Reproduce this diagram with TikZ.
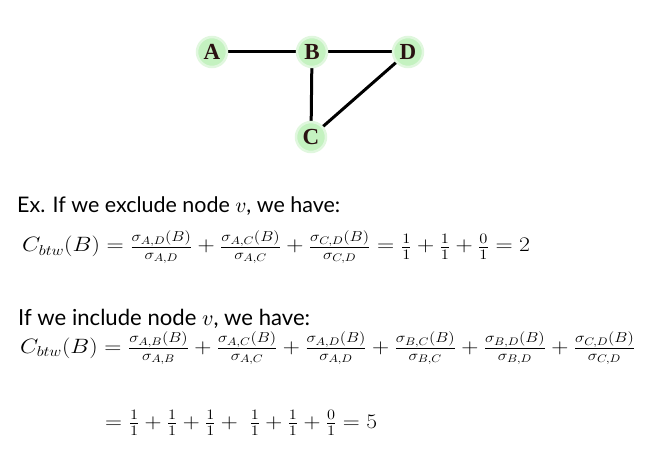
\documentclass[tikz,border=0pt]{standalone}
\usepackage{fontspec}
\setmainfont{Lato}
\newfontfamily\nodefont{Liberation Serif}
\usepackage{graphicx}
\definecolor{nodegreen}{HTML}{C4F2C0}
\definecolor{nodeglow}{HTML}{E0F7DE}
\definecolor{nodetext}{HTML}{2A1212}
\begin{document}
\begin{tikzpicture}[x=1pt,y=-1pt,
  vertex/.style={circle,fill=nodegreen,draw=nodeglow,line width=2.5pt,minimum size=30pt,inner sep=0pt,
    font=\nodefont\bfseries\fontsize{23}{23}\selectfont,text=nodetext},
  edge/.style={line width=3pt,black},
  txt/.style={anchor=base west,inner sep=0pt}]
\useasboundingbox (0,0) rectangle (661,454);
\coordinate (a0) at (212,52);
\coordinate (b0) at (312,52);
\coordinate (d0) at (408,52);
\coordinate (c0) at (311,137);
\draw[edge] (a0) -- (b0);
\draw[edge] (b0) -- (d0);
\draw[edge] (b0) -- (c0);
\draw[edge] (c0) -- (d0);
\node[vertex] (A) at (a0) {A};
\node[vertex] (B) at (b0) {B};
\node[vertex] (D) at (d0) {D};
\node[vertex] (C) at (c0) {C};
\node[txt] (l1) at (17,213) {\resizebox{323pt}{!}{Ex. If we exclude node $v$, we have:}};
\node[txt] (f1) at (22,252) {\fontsize{22}{26}\selectfont\resizebox{508pt}{\height}{$C_{btw}(B)=\frac{\sigma_{A,D}(B)}{\sigma_{A,D}}+\frac{\sigma_{A,C}(B)}{\sigma_{A,C}}+\frac{\sigma_{C,D}(B)}{\sigma_{C,D}}=\frac{1}{1}+\frac{1}{1}+\frac{0}{1}=2$}};
\node[txt] (l2) at (18,325) {\resizebox{292pt}{!}{If we include node $v$, we have:}};
\node[txt] (f2) at (20,353) {\fontsize{22}{26}\selectfont\resizebox{615pt}{\height}{$C_{btw}(B)=\frac{\sigma_{A,B}(B)}{\sigma_{A,B}}+\frac{\sigma_{A,C}(B)}{\sigma_{A,C}}+\frac{\sigma_{A,D}(B)}{\sigma_{A,D}}+\frac{\sigma_{B,C}(B)}{\sigma_{B,C}}+\frac{\sigma_{B,D}(B)}{\sigma_{B,D}}+\frac{\sigma_{C,D}(B)}{\sigma_{C,D}}$}};
\node[txt] (f3) at (105,428) {\fontsize{22}{26}\selectfont\resizebox{272pt}{\height}{$=\frac{1}{1}+\frac{1}{1}+\frac{1}{1}+\ \frac{1}{1}+\frac{1}{1}+\frac{0}{1}=5$}};
\end{tikzpicture}
\end{document}
